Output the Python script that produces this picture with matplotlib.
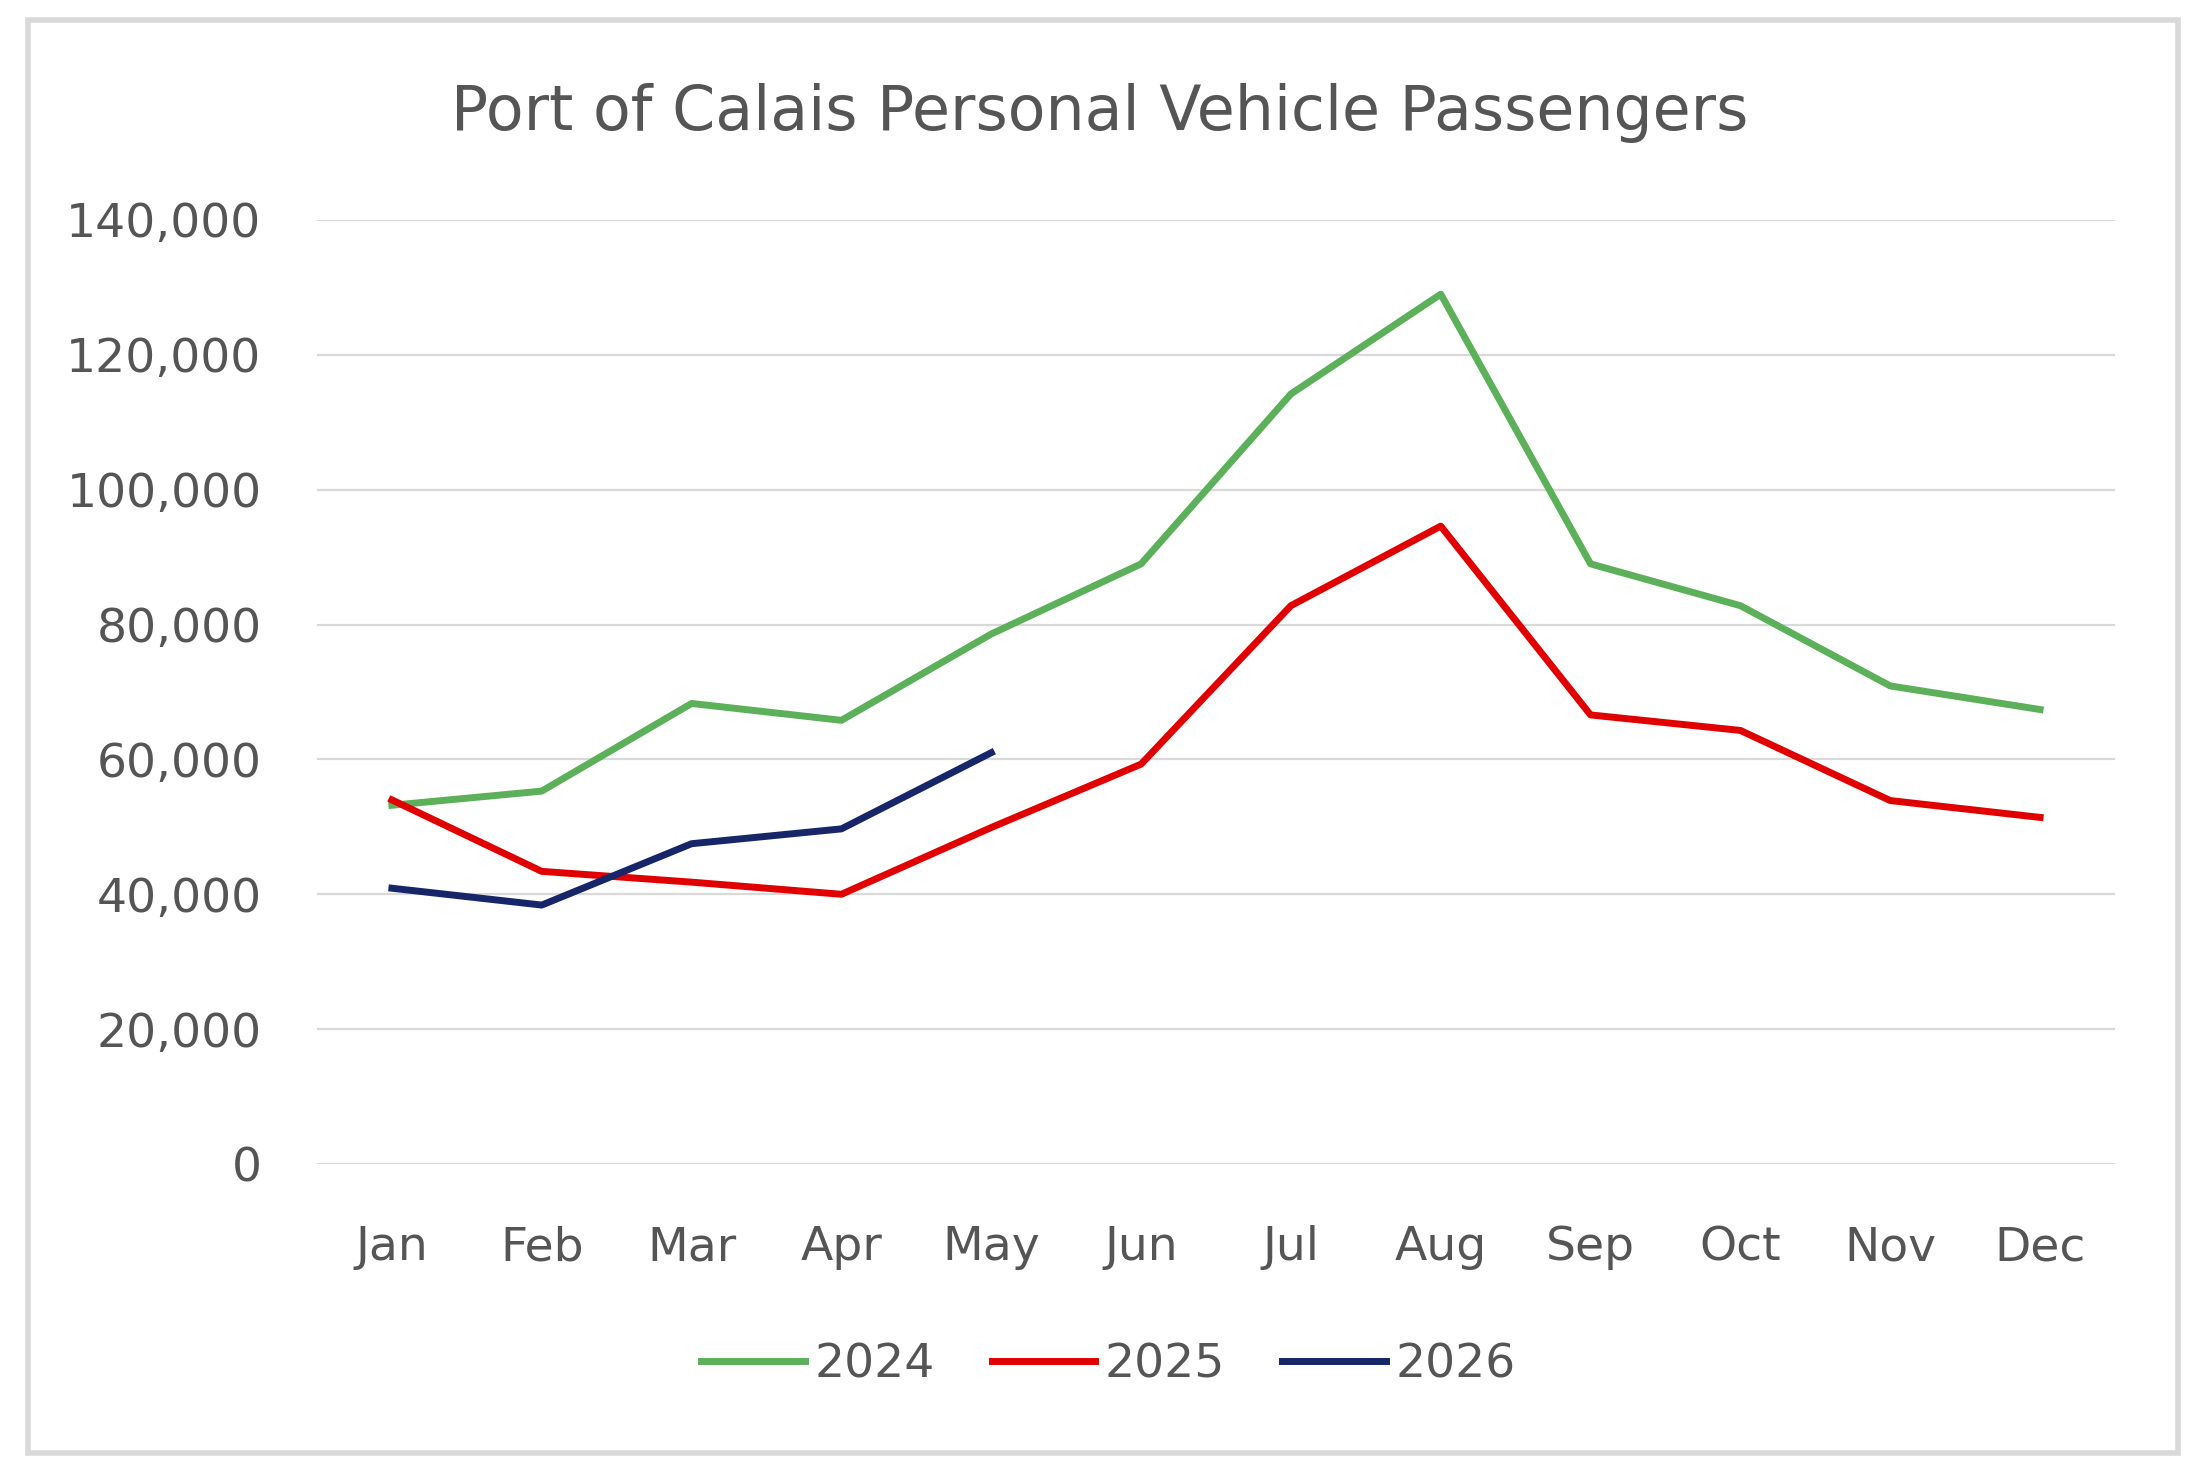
import matplotlib
matplotlib.use('Agg')
import matplotlib.pyplot as plt
from matplotlib.patches import Rectangle
from matplotlib.ticker import FuncFormatter

plt.rcParams['font.family'] = ['DejaVu Sans']

months = ['Jan', 'Feb', 'Mar', 'Apr', 'May', 'Jun', 'Jul', 'Aug', 'Sep', 'Oct', 'Nov', 'Dec']
pax_2024 = [53200, 55300, 68300, 65800, 78600, 89000, 114200, 129000, 89000, 82800, 70900, 67400]
pax_2025 = [54000, 43400, 41800, 40000, 49900, 59300, 82800, 94600, 66600, 64300, 53900, 51400]
pax_2026 = [40900, 38400, 47500, 49700, 61000]

text_col = '#555555'
grid_col = '#d9d9d9'

fig = plt.figure(figsize=(21.99, 14.82), dpi=100)

# outer chart border
fig.patches.append(Rectangle((28 / 2199, 1 - 1453 / 1482), (2178 - 28) / 2199, (1453 - 20) / 1482,
                             transform=fig.transFigure, fill=False, edgecolor=grid_col, linewidth=4))

ax = fig.add_axes([317 / 2199, 1 - 1164 / 1482, (2115 - 317) / 2199, (1164 - 220) / 1482])

x = list(range(len(months)))
lw = 5.0
ax.plot(x, pax_2024, color='#5cb05a', linewidth=lw, label='2024')
ax.plot(x, pax_2025, color='#e00000', linewidth=lw, label='2025')
ax.plot(x[:len(pax_2026)], pax_2026, color='#172668', linewidth=lw, label='2026')

ax.set_xlim(-0.5, 11.5)
ax.set_ylim(0, 140000)
ax.set_yticks(range(0, 140001, 20000))
ax.yaxis.set_major_formatter(FuncFormatter(lambda v, p: f'{int(v):,}'))
ax.set_xticks(x)
ax.set_xticklabels(months)
ax.grid(axis='y', color=grid_col, linewidth=1.6)
ax.set_axisbelow(True)
for s in ax.spines.values():
    s.set_visible(False)
ax.tick_params(axis='both', length=0, labelsize=34, colors=text_col)
ax.tick_params(axis='y', pad=40)
ax.tick_params(axis='x', pad=44)

fig.text(0.5, 0.924, 'Port of Calais Personal Vehicle Passengers', ha='center', va='center',
         fontsize=44.5, color=text_col)

leg = fig.legend(loc='center', bbox_to_anchor=(0.504, 0.079), ncol=3, frameon=False,
                 fontsize=34, handlelength=2.2, handletextpad=0.2, columnspacing=1.2)
for t in leg.get_texts():
    t.set_color(text_col)

fig.savefig('out.png', dpi=100, facecolor='white')
